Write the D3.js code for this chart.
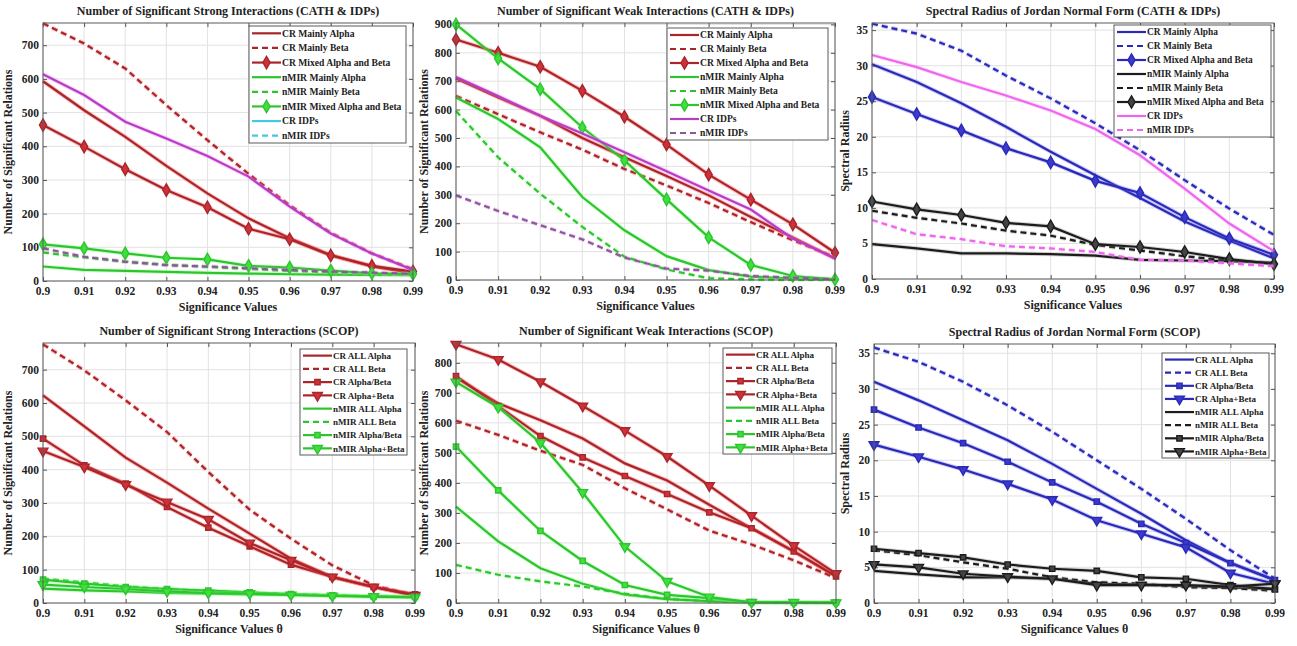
<!DOCTYPE html>
<html>
<head>
<meta charset="utf-8">
<script src="https://cdn.jsdelivr.net/npm/d3@7"></script>
<style>
  body { margin: 0; background: #fff; }
  svg text { font-family: "Liberation Serif", "Times New Roman", serif; font-weight: bold; fill: #222; }
</style>
</head>
<body>
<svg id="chart" width="1297" height="646"></svg>
<script>
// significance levels (x axis)
const sigValues = [0.90, 0.91, 0.92, 0.93, 0.94, 0.95, 0.96, 0.97, 0.98, 0.99];
const sigTickLabels = ["0.9", "0.91", "0.92", "0.93", "0.94", "0.95", "0.96", "0.97", "0.98", "0.99"];

// Strong interactions, CATH & IDPs
const strongCathCrAlpha  = [593, 507, 428, 342, 260, 186, 127, 77, 43, 23];
const strongCathCrBeta   = [765, 705, 631, 522, 418, 318, 225, 143, 82, 35];
const strongCathCrMixed  = [463, 399, 332, 270, 219, 155, 124, 76, 45, 28];
const strongCathNmAlpha  = [43, 33, 30, 27, 24, 22, 20, 19, 18, 17];
const strongCathNmBeta   = [85, 70, 58, 48, 42, 36, 30, 26, 22, 20];
const strongCathNmMixed  = [109, 97, 82, 69, 64, 45, 40, 31, 23, 21];
const strongCathCrIdp    = [614, 552, 473, 423, 371, 310, 221, 141, 82, 33];
const strongCathNmIdp    = [97, 72, 57, 47, 43, 38, 33, 28, 25, 21];

// Weak interactions, CATH & IDPs
const weakCathCrAlpha = [710, 643, 578, 500, 432, 366, 298, 222, 150, 76];
const weakCathCrBeta  = [648, 584, 520, 459, 391, 333, 271, 204, 140, 80];
const weakCathCrMixed = [847, 800, 751, 666, 575, 477, 371, 283, 196, 96];
const weakCathNmAlpha = [643, 567, 467, 292, 175, 84, 35, 12, 5, 2];
const weakCathNmBeta  = [595, 432, 304, 187, 82, 37, 6, 2, 0, 0];
const weakCathNmMixed = [900, 780, 672, 537, 421, 284, 150, 53, 14, 2];
const weakCathCrIdp   = [715, 648, 578, 516, 450, 383, 315, 248, 146, 76];
const weakCathNmIdp   = [298, 243, 193, 143, 79, 40, 33, 14, 8, 2];

// Spectral radius, CATH & IDPs
const specCathCrAlpha = [30.2, 27.7, 24.7, 21.4, 17.9, 14.6, 11.4, 8.1, 5.4, 2.9];
const specCathCrBeta  = [35.9, 34.5, 32.1, 28.6, 25.4, 21.9, 18.1, 13.9, 9.9, 6.2];
const specCathCrMixed = [25.6, 23.2, 20.9, 18.4, 16.4, 13.8, 12.1, 8.7, 5.7, 3.4];
const specCathNmAlpha = [4.9, 4.3, 3.6, 3.6, 3.5, 3.3, 2.7, 2.6, 2.5, 2.3];
const specCathNmBeta  = [9.6, 8.6, 7.8, 6.8, 6.1, 4.8, 4.0, 3.2, 2.6, 2.2];
const specCathNmMixed = [10.9, 9.8, 9.0, 7.9, 7.4, 4.9, 4.5, 3.8, 2.8, 2.1];
const specCathCrIdp   = [31.5, 29.8, 27.7, 25.8, 23.7, 21.1, 17.4, 12.7, 7.8, 3.9];
const specCathNmIdp   = [8.3, 6.3, 5.6, 4.6, 4.3, 3.8, 2.7, 2.6, 2.2, 1.8];

// Strong interactions, SCOP
const strongScopCrAllAlpha = [623, 530, 436, 361, 283, 208, 133, 78, 48, 23];
const strongScopCrAllBeta  = [776, 698, 608, 513, 393, 280, 193, 113, 53, 23];
const strongScopCrAB       = [493, 413, 358, 288, 226, 170, 115, 78, 48, 26];
const strongScopCrApB      = [456, 408, 355, 303, 251, 180, 128, 78, 48, 23];
const strongScopNmAllAlpha = [43, 38, 35, 30, 28, 26, 24, 22, 20, 18];
const strongScopNmAllBeta  = [73, 62, 50, 42, 36, 31, 27, 23, 20, 18];
const strongScopNmAB       = [70, 58, 48, 42, 37, 32, 27, 23, 20, 18];
const strongScopNmApB      = [55, 48, 42, 35, 30, 28, 24, 21, 19, 17];

// Weak interactions, SCOP
const weakScopCrAllAlpha = [751, 665, 609, 548, 465, 408, 327, 249, 172, 89];
const weakScopCrAllBeta  = [607, 560, 507, 460, 382, 312, 241, 195, 142, 83];
const weakScopCrAB       = [756, 656, 556, 485, 423, 363, 302, 249, 172, 89];
const weakScopCrApB      = [862, 811, 737, 656, 574, 488, 391, 291, 191, 98];
const weakScopNmAllAlpha = [321, 205, 116, 64, 28, 13, 6, 2, 1, 0];
const weakScopNmAllBeta  = [127, 94, 72, 55, 31, 13, 6, 2, 1, 0];
const weakScopNmAB       = [521, 375, 240, 140, 60, 27, 16, 3, 2, 2];
const weakScopNmApB      = [736, 652, 534, 368, 188, 72, 20, 2, 2, 1];

// Spectral radius, SCOP
const specScopCrAllAlpha = [31.0, 28.4, 25.6, 22.8, 19.5, 16.0, 12.5, 8.8, 5.6, 3.2];
const specScopCrAllBeta  = [35.8, 33.8, 31.0, 27.7, 24.0, 20.0, 16.0, 11.8, 7.4, 3.4];
const specScopCrAB       = [27.1, 24.6, 22.4, 19.8, 16.9, 14.2, 11.1, 8.4, 5.6, 3.2];
const specScopCrApB      = [22.2, 20.5, 18.7, 16.7, 14.5, 11.6, 9.7, 7.8, 4.2, 2.7];
const specScopNmAllAlpha = [4.5, 4.0, 3.6, 3.6, 3.4, 2.7, 2.6, 2.4, 2.2, 2.0];
const specScopNmAllBeta  = [7.4, 6.7, 5.7, 4.8, 3.6, 2.9, 2.7, 2.2, 2.1, 1.7];
const specScopNmAB       = [7.6, 7.0, 6.4, 5.4, 4.8, 4.5, 3.6, 3.4, 2.5, 1.9];
const specScopNmApB      = [5.4, 5.0, 4.1, 3.7, 3.4, 2.5, 2.5, 2.5, 2.3, 2.7];

// tick values
const countTicks700 = [0, 100, 200, 300, 400, 500, 600, 700];
const countTicks800 = [0, 100, 200, 300, 400, 500, 600, 700, 800];
const countTicks900 = [0, 100, 200, 300, 400, 500, 600, 700, 800, 900];
const radiusTicks   = [0, 5, 10, 15, 20, 25, 30, 35];

// colours: core stroke + soft halo (the source is a blurry scan)
const palette = {
  red:     { core: "#a8262b", halo: "#ff4a4a", fill: "#d0303a" },
  green:   { core: "#2fc42f", halo: "#7dff7d", fill: "#3ee03e" },
  magenta: { core: "#b53fc4", halo: "#ff7cff", fill: "#c84ad8" },
  mauve:   { core: "#8a5a98", halo: "#e07ce8", fill: "#a070b0" },
  pink:    { core: "#ee66ee", halo: "#ffaaff", fill: "#f080f0" },
  cyan:    { core: "#45c8e6", halo: "#a0f0ff", fill: "#60d8f0" },
  blue:    { core: "#2a2ab4", halo: "#6a6aff", fill: "#3a3ad0" },
  black:   { core: "#1c1c1c", halo: "#8a8a8a", fill: "#444444" }
};

function s(name, values, color, dash, marker, legendColor) {
  return { name: name, values: values, color: color, dash: dash, marker: marker, legendColor: legendColor || color };
}

const panels = [
  {
    title: "Number of Significant Strong Interactions (CATH & IDPs)",
    xlabel: "Significance Values", ylabel: "Number of Significant Relations",
    ymax: 766, yticks: countTicks700,
    box: { l: 43, r: 413, t: 23, b: 281 }, ylabelX: 12,
    legend: { x: 249, y: 26, w: 157, h: 117, fs: 9.6 },
    series: [
      s("CR Mainly Alpha", strongCathCrAlpha, "red", false, null),
      s("CR Mainly Beta", strongCathCrBeta, "red", true, null),
      s("CR Mixed Alpha and Beta", strongCathCrMixed, "red", false, "diamond"),
      s("nMIR Mainly Alpha", strongCathNmAlpha, "green", false, null),
      s("nMIR Mainly Beta", strongCathNmBeta, "green", true, null),
      s("nMIR Mixed Alpha and Beta", strongCathNmMixed, "green", false, "diamond"),
      s("CR IDPs", strongCathCrIdp, "magenta", false, null, "cyan"),
      s("nMIR IDPs", strongCathNmIdp, "mauve", true, null, "cyan")
    ]
  },
  {
    title: "Number of Significant Weak Interactions (CATH & IDPs)",
    xlabel: "Significance Values", ylabel: "Number of Significant Relations",
    ymax: 905, yticks: countTicks900,
    box: { l: 456, r: 835, t: 23, b: 280 }, ylabelX: 428,
    legend: { x: 667, y: 28, w: 161, h: 112, fs: 9.6 },
    series: [
      s("CR Mainly Alpha", weakCathCrAlpha, "red", false, null),
      s("CR Mainly Beta", weakCathCrBeta, "red", true, null),
      s("CR Mixed Alpha and Beta", weakCathCrMixed, "red", false, "diamond"),
      s("nMIR Mainly Alpha", weakCathNmAlpha, "green", false, null),
      s("nMIR Mainly Beta", weakCathNmBeta, "green", true, null),
      s("nMIR Mixed Alpha and Beta", weakCathNmMixed, "green", false, "diamond"),
      s("CR IDPs", weakCathCrIdp, "magenta", false, null),
      s("nMIR IDPs", weakCathNmIdp, "mauve", true, null)
    ]
  },
  {
    title: "Spectral Radius of Jordan Normal Form (CATH & IDPs)",
    xlabel: "Significance Values", ylabel: "Spectral Radius",
    ymax: 36, yticks: radiusTicks,
    box: { l: 872, r: 1274, t: 23, b: 279 }, ylabelX: 849,
    legend: { x: 1114, y: 25, w: 157, h: 112, fs: 9.4 },
    series: [
      s("CR Mainly Alpha", specCathCrAlpha, "blue", false, null),
      s("CR Mainly Beta", specCathCrBeta, "blue", true, null),
      s("CR Mixed Alpha and Beta", specCathCrMixed, "blue", false, "diamond"),
      s("nMIR Mainly Alpha", specCathNmAlpha, "black", false, null),
      s("nMIR Mainly Beta", specCathNmBeta, "black", true, null),
      s("nMIR Mixed Alpha and Beta", specCathNmMixed, "black", false, "diamond"),
      s("CR IDPs", specCathCrIdp, "pink", false, null),
      s("nMIR IDPs", specCathNmIdp, "pink", true, null)
    ]
  },
  {
    title: "Number of Significant Strong Interactions (SCOP)",
    xlabel: "Significance Values \u03b8", ylabel: "Number of Significant Relations",
    ymax: 780, yticks: countTicks700,
    box: { l: 43, r: 415, t: 343, b: 603 }, ylabelX: 12,
    legend: { x: 300, y: 349, w: 107, h: 106, fs: 9 },
    series: [
      s("CR ALL Alpha", strongScopCrAllAlpha, "red", false, null),
      s("CR ALL Beta", strongScopCrAllBeta, "red", true, null),
      s("CR Alpha/Beta", strongScopCrAB, "red", false, "square"),
      s("CR Alpha+Beta", strongScopCrApB, "red", false, "triangle"),
      s("nMIR ALL Alpha", strongScopNmAllAlpha, "green", false, null),
      s("nMIR ALL Beta", strongScopNmAllBeta, "green", true, null),
      s("nMIR Alpha/Beta", strongScopNmAB, "green", false, "square"),
      s("nMIR Alpha+Beta", strongScopNmApB, "green", false, "triangle")
    ]
  },
  {
    title: "Number of Significant Weak Interactions (SCOP)",
    xlabel: "Significance Values \u03b8", ylabel: "Number of Significant Relations",
    ymax: 866, yticks: countTicks800,
    box: { l: 456, r: 836, t: 343, b: 603 }, ylabelX: 428,
    legend: { x: 723, y: 348, w: 109, h: 106, fs: 9 },
    series: [
      s("CR ALL Alpha", weakScopCrAllAlpha, "red", false, null),
      s("CR ALL Beta", weakScopCrAllBeta, "red", true, null),
      s("CR Alpha/Beta", weakScopCrAB, "red", false, "square"),
      s("CR Alpha+Beta", weakScopCrApB, "red", false, "triangle"),
      s("nMIR ALL Alpha", weakScopNmAllAlpha, "green", false, null),
      s("nMIR ALL Beta", weakScopNmAllBeta, "green", true, null),
      s("nMIR Alpha/Beta", weakScopNmAB, "green", false, "square"),
      s("nMIR Alpha+Beta", weakScopNmApB, "green", false, "triangle")
    ]
  },
  {
    title: "Spectral Radius of Jordan Normal Form (SCOP)",
    xlabel: "Significance Values \u03b8", ylabel: "Spectral Radius",
    ymax: 36.3, yticks: radiusTicks,
    box: { l: 874, r: 1275, t: 344, b: 603 }, ylabelX: 849,
    legend: { x: 1162, y: 353, w: 107, h: 105, fs: 9 },
    series: [
      s("CR ALL Alpha", specScopCrAllAlpha, "blue", false, null),
      s("CR ALL Beta", specScopCrAllBeta, "blue", true, null),
      s("CR Alpha/Beta", specScopCrAB, "blue", false, "square"),
      s("CR Alpha+Beta", specScopCrApB, "blue", false, "triangle"),
      s("nMIR ALL Alpha", specScopNmAllAlpha, "black", false, null),
      s("nMIR ALL Beta", specScopNmAllBeta, "black", true, null),
      s("nMIR Alpha/Beta", specScopNmAB, "black", false, "square"),
      s("nMIR Alpha+Beta", specScopNmApB, "black", false, "triangle")
    ]
  }
];

const svg = d3.select("#chart");

function markerPath(kind) {
  if (kind === "diamond") return d3.symbol().type(d3.symbolDiamond).size(44)();
  if (kind === "square") return d3.symbol().type(d3.symbolSquare).size(28)();
  if (kind === "triangle") return d3.symbol().type(d3.symbolTriangle).size(42)();
  return null;
}

function drawPanel(p) {
  const g = svg.append("g");
  const b = p.box;

  let x = d3.scaleLinear().domain([0.9, 0.99]).range([b.l, b.r]);
  let y = d3.scaleLinear().domain([0, p.ymax]).range([b.b, b.t]);

  // plot background
  g.append("rect").attr("x", b.l).attr("y", b.t)
    .attr("width", b.r - b.l).attr("height", b.b - b.t).attr("fill", "#fff");

  // grid
  g.append("g").selectAll("line").data(sigValues).enter().append("line")
    .attr("x1", d => x(d)).attr("x2", d => x(d))
    .attr("y1", b.t).attr("y2", b.b)
    .attr("stroke", "#e2e2e2").attr("stroke-width", 1);
  g.append("g").selectAll("line").data(p.yticks).enter().append("line")
    .attr("x1", b.l).attr("x2", b.r)
    .attr("y1", d => y(d)).attr("y2", d => y(d))
    .attr("stroke", "#e2e2e2").attr("stroke-width", 1);

  // axes (ticks pointing inward, like matlab)
  let xAxis = d3.axisTop(x).tickValues(sigValues).tickSize(4).tickFormat("");
  g.append("g").attr("transform", `translate(0,${b.b})`).call(xAxis)
    .call(a => a.select(".domain").remove()).selectAll("line").attr("stroke", "#555");
  let xAxisT = d3.axisBottom(x).tickValues(sigValues).tickSize(4).tickFormat("");
  g.append("g").attr("transform", `translate(0,${b.t})`).call(xAxisT)
    .call(a => a.select(".domain").remove()).selectAll("line").attr("stroke", "#555");
  let yAxis = d3.axisRight(y).tickValues(p.yticks).tickSize(4).tickFormat("");
  g.append("g").attr("transform", `translate(${b.l},0)`).call(yAxis)
    .call(a => a.select(".domain").remove()).selectAll("line").attr("stroke", "#555");
  let yAxisR = d3.axisLeft(y).tickValues(p.yticks).tickSize(4).tickFormat("");
  g.append("g").attr("transform", `translate(${b.r},0)`).call(yAxisR)
    .call(a => a.select(".domain").remove()).selectAll("line").attr("stroke", "#555");

  // tick labels
  g.append("g").selectAll("text").data(sigValues).enter().append("text")
    .attr("x", d => x(d)).attr("y", b.b + 14)
    .attr("text-anchor", "middle").attr("font-size", 11.5)
    .text((d, i) => sigTickLabels[i]);
  g.append("g").selectAll("text").data(p.yticks).enter().append("text")
    .attr("x", b.l - 4).attr("y", d => y(d) + 4)
    .attr("text-anchor", "end").attr("font-size", 11.5)
    .text(d => d);

  // lines
  let line = d3.line().x((d, i) => x(sigValues[i])).y(d => y(d));
  p.series.forEach(function(ser) {
    let c = palette[ser.color];
    g.append("path").attr("d", line(ser.values))
      .attr("fill", "none").attr("stroke", c.halo).attr("stroke-opacity", 0.35)
      .attr("stroke-width", 4.2).attr("stroke-dasharray", ser.dash ? "6,4" : null);
    g.append("path").attr("d", line(ser.values))
      .attr("fill", "none").attr("stroke", c.core)
      .attr("stroke-width", 2.2).attr("stroke-dasharray", ser.dash ? "6,4" : null);
    if (ser.marker) {
      let mp = markerPath(ser.marker);
      g.append("g").selectAll("path").data(ser.values).enter().append("path")
        .attr("d", mp)
        .attr("transform", (d, i) => `translate(${x(sigValues[i])},${y(d)})` + (ser.marker === "triangle" ? " rotate(180)" : ""))
        .attr("fill", c.fill)
        .attr("stroke", c.core).attr("stroke-width", 1.4);
    }
  });

  // box
  g.append("rect").attr("x", b.l).attr("y", b.t)
    .attr("width", b.r - b.l).attr("height", b.b - b.t)
    .attr("fill", "none").attr("stroke", "#5a5a5a").attr("stroke-width", 1);

  // title and labels
  g.append("text").attr("x", (b.l + b.r) / 2).attr("y", b.t - 8)
    .attr("text-anchor", "middle").attr("font-size", 12).text(p.title);
  g.append("text").attr("x", (b.l + b.r) / 2).attr("y", b.b + 30)
    .attr("text-anchor", "middle").attr("font-size", 12).text(p.xlabel);
  g.append("text")
    .attr("transform", `translate(${p.ylabelX},${(b.t + b.b) / 2}) rotate(-90)`)
    .attr("text-anchor", "middle").attr("font-size", 12).text(p.ylabel);

  // legend
  let L = p.legend;
  let lg = g.append("g");
  lg.append("rect").attr("x", L.x).attr("y", L.y).attr("width", L.w).attr("height", L.h)
    .attr("fill", "#fff").attr("stroke", "#5a5a5a").attr("stroke-width", 1);
  let rowH = L.h / p.series.length;
  p.series.forEach(function(ser, i) {
    let c = palette[ser.legendColor];
    let cy = L.y + rowH * (i + 0.5);
    lg.append("line").attr("x1", L.x + 3).attr("x2", L.x + 32).attr("y1", cy).attr("y2", cy)
      .attr("stroke", c.core).attr("stroke-width", 2.2)
      .attr("stroke-dasharray", ser.dash ? "6,4" : null);
    if (ser.marker) {
      lg.append("path").attr("d", markerPath(ser.marker))
        .attr("transform", `translate(${L.x + 17.5},${cy})` + (ser.marker === "triangle" ? " rotate(180)" : ""))
        .attr("fill", c.fill).attr("stroke", c.core).attr("stroke-width", 1.4);
    }
    lg.append("text").attr("x", L.x + 33).attr("y", cy + L.fs * 0.35)
      .attr("font-size", L.fs).text(ser.name);
  });
}

panels.forEach(drawPanel);
</script>
</body>
</html>
